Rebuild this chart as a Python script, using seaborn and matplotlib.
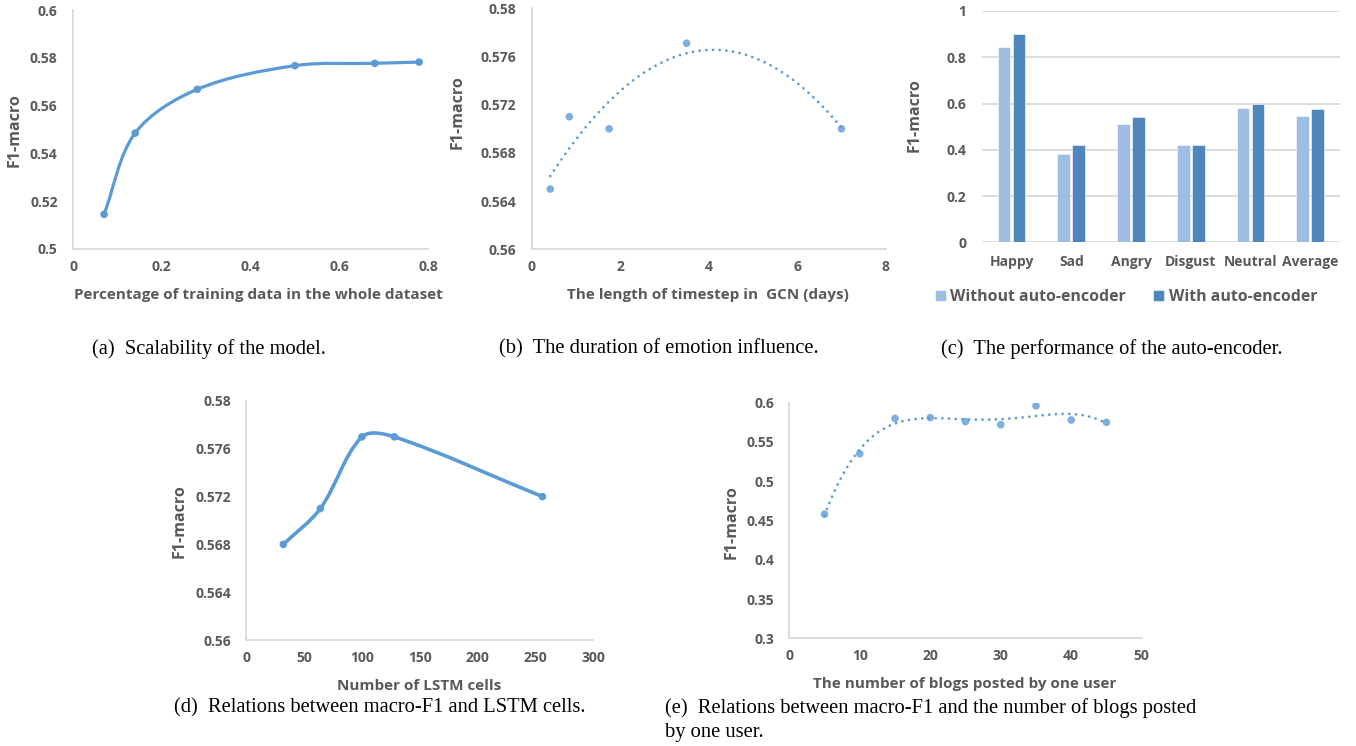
import numpy as np
import pandas as pd
import seaborn as sns
import matplotlib.pyplot as plt
from matplotlib.path import Path
from matplotlib.patches import PathPatch
from matplotlib.ticker import FuncFormatter

# (a) scalability
a_x = [0.07, 0.14, 0.28, 0.50, 0.68, 0.78]
a_y = [0.5145, 0.5485, 0.5668, 0.5767, 0.5777, 0.5782]
# (b) length of timestep (days)
b_x = [0.42, 0.85, 1.75, 3.5, 7.0]
b_y = [0.565, 0.571, 0.570, 0.5771, 0.570]
# (c) auto-encoder
c_cats = ['Happy', 'Sad', 'Angry', 'Disgust', 'Neutral', 'Average']
c_without = [0.846, 0.382, 0.512, 0.421, 0.579, 0.546]
c_with = [0.902, 0.421, 0.540, 0.421, 0.597, 0.575]
# (d) LSTM cells
d_x = [32, 64, 100, 128, 256]
d_y = [0.568, 0.571, 0.577, 0.577, 0.572]
# (e) number of blogs per user
e_x = [5, 10, 15, 20, 25, 30, 35, 40, 45]
e_y = [0.458, 0.535, 0.580, 0.581, 0.576, 0.572, 0.596, 0.578, 0.575]

BLUE = '#5B9BD5'
LIGHT = '#9DBDE2'
DARK = '#4F87BD'
GREY = '#595959'
AXC = '#D9D9D9'

sns.set_theme(style='white')
plt.rcParams['font.family'] = ['Open Sans', 'DejaVu Sans']
plt.rcParams['font.weight'] = 'bold'

W, H = 1356, 746
fig = plt.figure(figsize=(W / 100, H / 100), dpi=100)


def rect(l, t, r, b):
    return [l / W, 1 - b / H, (r - l) / W, (b - t) / H]


def fig_xy(x, y):
    return x / W, 1 - y / H


def style(ax, xl, yl, xlab_pos, ylab_pos, num_x=True):
    for s in ['top', 'right']:
        ax.spines[s].set_visible(False)
    for s in ['left', 'bottom']:
        ax.spines[s].set_color(AXC)
        ax.spines[s].set_linewidth(1.3)
    ax.tick_params(axis='both', length=0, labelsize=10, labelcolor=GREY)
    ax.tick_params(axis='x', pad=8)
    ax.tick_params(axis='y', pad=11)
    fmt = FuncFormatter(lambda v, p: '%g' % round(v, 4))
    if num_x:
        ax.xaxis.set_major_formatter(fmt)
    ax.yaxis.set_major_formatter(fmt)
    for t in ax.get_xticklabels() + ax.get_yticklabels():
        t.set_fontweight('bold')
    ax.set_xlabel(xl, fontsize=11, color=GREY, fontweight='bold', va='center')
    ax.set_ylabel(yl, fontsize=11.5, color=GREY, fontweight='bold', va='center')
    if xlab_pos is not None:
        ax.xaxis.set_label_coords(*fig_xy(*xlab_pos), transform=fig.transFigure)
    ax.yaxis.set_label_coords(*fig_xy(*ylab_pos), transform=fig.transFigure)


def smooth_line(ax, x, y, color, lw):
    # Excel-like smoothed line: cubic Bezier segments, controls worked out in pixels
    data = np.column_stack([x, y]).astype(float)
    pts = ax.transData.transform(data)
    n = len(pts)
    ctrl = []
    for i in range(n - 1):
        p0 = pts[max(i - 1, 0)]
        p1 = pts[i]
        p2 = pts[i + 1]
        p3 = pts[min(i + 2, n - 1)]
        d01 = np.hypot(*(p1 - p0))
        d12 = np.hypot(*(p2 - p1))
        d23 = np.hypot(*(p3 - p2))
        t1 = (p2 - p0) / (d01 + d12)
        t2 = (p3 - p1) / (d12 + d23)
        ctrl += [p1 + t1 * d12 / 3, p2 - t2 * d12 / 3, p2]
    inv = ax.transData.inverted()
    verts = [data[0]] + list(inv.transform(np.array(ctrl)))
    codes = [Path.MOVETO] + [Path.CURVE4] * (len(verts) - 1)
    ax.add_patch(PathPatch(Path(verts, codes), fill=False, edgecolor=color,
                           lw=lw, capstyle='round', joinstyle='round'))


dots = dict(linestyle=(0, (0.01, 2.4)), dash_capstyle='round', lw=2, color=BLUE)

# ---- (a)
ax = fig.add_axes(rect(73, 10, 428, 249))
ax.set_xlim(0, 0.8)
ax.set_ylim(0.5, 0.6)
smooth_line(ax, a_x, a_y, BLUE, 2.3)
sns.scatterplot(x=a_x, y=a_y, ax=ax, color=BLUE, s=30, edgecolor='none', zorder=3)
ax.set_xticks(np.arange(0, 0.81, 0.2))
ax.set_yticks(np.arange(0.5, 0.601, 0.02))
style(ax, 'Percentage of training data in the whole dataset', 'F1-macro', (258, 295), (15, 130))

# ---- (b)
ax = fig.add_axes(rect(531.7, 8.3, 885.7, 249.3))
sns.regplot(x=b_x, y=b_y, order=2, ci=None, ax=ax, truncate=True,
            scatter_kws=dict(s=30, color=BLUE, edgecolor='none', zorder=3),
            line_kws=dots)
ax.set_xlim(0, 8)
ax.set_ylim(0.56, 0.58)
ax.set_xticks(np.arange(0, 8.1, 2))
ax.set_yticks(np.arange(0.56, 0.5801, 0.004))
style(ax, 'The length of timestep in  GCN (days)', 'F1-macro', (708, 295), (458, 112))

# ---- (c)
ax = fig.add_axes(rect(981.7, 11, 1340, 242.3))
df = pd.DataFrame({
    'cat': c_cats * 2,
    'val': c_without + c_with,
    'grp': ['Without auto-encoder'] * len(c_cats) + ['With auto-encoder'] * len(c_cats),
})
sns.barplot(data=df, x='cat', y='val', hue='grp', ax=ax, width=0.5, gap=0.15,
            palette=[LIGHT, DARK], saturation=1, edgecolor='white', linewidth=0.4)
ax.set_ylim(0, 1)
ax.set_xlim(-0.5, 5.5)
ax.set_yticks(np.arange(0, 1.01, 0.2))
ax.yaxis.grid(True, color=AXC, lw=1.3)
ax.set_axisbelow(True)
style(ax, '', 'F1-macro', None, (915, 115), num_x=False)
ax.spines['left'].set_visible(False)
ax.spines['bottom'].set_visible(False)
ax.tick_params(axis='x', labelsize=10, pad=9)
handles, labels = ax.get_legend_handles_labels()
ax.get_legend().remove()
fig.legend(handles, labels, loc='center', bbox_to_anchor=fig_xy(1126, 297), ncol=2,
           frameon=False, labelcolor=GREY, handlelength=0.7,
           handleheight=0.7, handletextpad=0.3, columnspacing=1.7,
           prop=dict(weight='bold', size=11.4))

# ---- (d)
ax = fig.add_axes(rect(246.3, 401, 593.3, 640))
ax.set_xlim(0, 300)
ax.set_ylim(0.56, 0.58)
smooth_line(ax, d_x, d_y, BLUE, 2.6)
sns.scatterplot(x=d_x, y=d_y, ax=ax, color=BLUE, s=30, edgecolor='none', zorder=3)
ax.set_xticks(np.arange(0, 301, 50))
ax.set_yticks(np.arange(0.56, 0.5801, 0.004))
style(ax, 'Number of LSTM cells', 'F1-macro', (419, 686), (180, 521))

# ---- (e)
ax = fig.add_axes(rect(789.3, 402.7, 1141.7, 638.3))
sns.regplot(x=e_x, y=e_y, order=4, ci=None, ax=ax, truncate=True,
            scatter_kws=dict(s=30, color=BLUE, edgecolor='none', zorder=3),
            line_kws=dots)
ax.set_xlim(0, 50)
ax.set_ylim(0.3, 0.6)
ax.set_xticks(np.arange(0, 51, 10))
ax.set_yticks(np.arange(0.3, 0.601, 0.05))
style(ax, 'The number of blogs posted by one user', 'F1-macro', (965, 684), (732, 522))

# captions
cap = dict(family=['Liberation Serif', 'DejaVu Serif'], fontsize=14.8,
           fontweight='normal', color='black', va='center', ha='left')
fig.text(*fig_xy(92, 349), '(a)  Scalability of the model.', **cap)
fig.text(*fig_xy(499, 349), '(b)  The duration of emotion influence.', **cap)
fig.text(*fig_xy(941, 349), '(c)  The performance of the auto-encoder.', **cap)
fig.text(*fig_xy(174, 708), '(d)  Relations between macro-F1 and LSTM cells.', **cap)
fig.text(*fig_xy(665, 708), '(e)  Relations between macro-F1 and the number of blogs posted', **cap)
fig.text(*fig_xy(665, 733), 'by one user.', **cap)

fig.savefig('out.png', dpi=100)
